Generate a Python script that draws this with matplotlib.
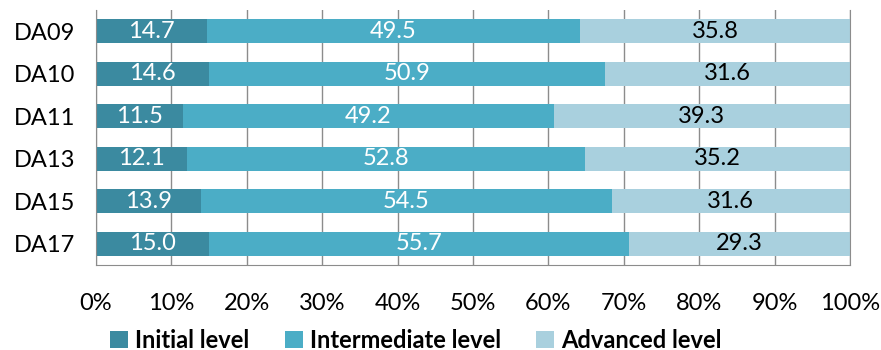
import matplotlib.pyplot as plt
import numpy as np

plt.rcParams['font.family'] = ['Lato', 'DejaVu Sans']

years = ["DA09", "DA10", "DA11", "DA13", "DA15", "DA17"]
initial = [14.7, 14.6, 11.5, 12.1, 13.9, 15.0]
intermediate = [49.5, 50.9, 49.2, 52.8, 54.5, 55.7]
advanced = [35.8, 31.6, 39.3, 35.2, 31.6, 29.3]

series = [
    ("Initial level", initial, "#3B8AA0", "white"),
    ("Intermediate level", intermediate, "#4BADC6", "white"),
    ("Advanced level", advanced, "#A9D0DE", "black"),
]

# bars are scaled to 100% per row, labels keep the raw values
totals = np.array(initial) + np.array(intermediate) + np.array(advanced)

fig = plt.figure(figsize=(8.81, 3.5), dpi=100)
ax = fig.add_axes([96 / 881, 85 / 350, 754 / 881, 255 / 350])

y = np.arange(len(years))
left = np.zeros(len(years))
for name, vals, color, tcolor in series:
    vals = np.array(vals)
    share = vals / totals * 100
    ax.barh(y, share, left=left, height=0.57, color=color, label=name, zorder=2)
    for yi, l, s, v in zip(y, left, share, vals):
        ax.text(l + s / 2, yi, f"{v:.1f}", ha="center", va="center",
                color=tcolor, fontsize=17, zorder=3)
    left += share

ax.set_xlim(0, 100)
ax.set_ylim(len(years) - 0.5, -0.5)
ax.set_yticks(y)
ax.set_yticklabels(years, fontsize=17)
ax.set_xticks(np.arange(0, 101, 10))
ax.set_xticklabels([f"{t}%" for t in range(0, 101, 10)], fontsize=17)
ax.tick_params(axis="x", length=0, pad=20)
ax.tick_params(axis="y", length=0, pad=15)
ax.xaxis.grid(True, color="#8C8C8C", linewidth=1, zorder=0)
ax.spines["top"].set_visible(False)
for s in ["left", "right", "bottom"]:
    ax.spines[s].set_color("#8C8C8C")

fig.legend(loc="center", bbox_to_anchor=(416 / 881, 1 - 340 / 350), ncol=3,
           frameon=False, handlelength=0.75, handleheight=0.75,
           handletextpad=0.3, columnspacing=1.5, prop={"weight": "bold", "size": 17})

fig.savefig("out.png", dpi=100)
